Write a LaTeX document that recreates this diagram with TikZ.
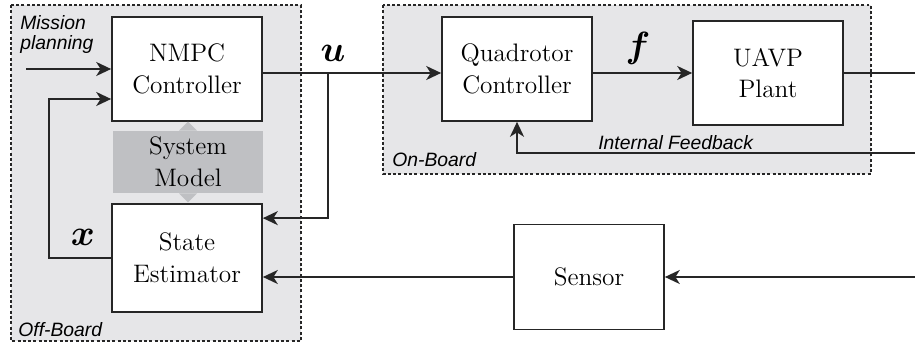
\documentclass[tikz,border=0pt]{standalone}
\usepackage{amsmath, amssymb}
\usepackage{bm}
\usepackage{fontspec}
\newfontfamily\labelfont{Liberation Sans}
\usetikzlibrary{arrows.meta, positioning, calc}
\definecolor{boardgray}{RGB}{230,230,232}
\definecolor{modelgray}{RGB}{191,192,195}

\begin{document}
\begin{tikzpicture}[x=0.02cm,y=-0.02cm,>={Stealth[length=8.5pt,width=8pt,inset=2.5pt]},
    block/.style={draw=black!85, line width=1pt, fill=white, minimum width=3cm,
      minimum height=2.08cm, align=center, font=\Large, inner sep=2pt},
    board/.style={draw=black!85, fill=boardgray, line width=1.1pt,
      dash pattern=on 1.7pt off 1.3pt},
    tag/.style={font=\labelfont\itshape\fontsize{11}{11.5}\selectfont, inner sep=0pt},
    sig/.style={font=\huge, inner sep=0pt},
    wire/.style={line width=1pt, draw=black!85}]
    \useasboundingbox (0,0) rectangle (915,344);

    % boards
    \draw[board] (11,5) rectangle (301,341);
    \draw[board] (383,5) rectangle (871,174);
    \node[tag, anchor=base west] (offboard) at (18,336) {Off-Board};
    \node[tag, anchor=base west] (onboard) at (392,167) {On-Board};

    % blocks
    \node[block] (nmpc) at (187,69) {NMPC\\Controller};
    \node[block] (quad) at (517,69) {Quadrotor\\Controller};
    \node[block] (plant) at (768,73) {UAVP\\Plant};
    \node[block, minimum height=2.16cm] (est) at (187,258) {State\\Estimator};
    \node[block, minimum height=2.1cm] (sensor) at (589,277) {Sensor};

    % system model
    \node[fill=modelgray, minimum width=3cm, minimum height=1.24cm,
          align=center, font=\Large, inner sep=0pt] (model) at (188,162) {System\\Model};
    \fill[modelgray] ($(model.north)+(-9,0)$) -- ($(model.north)+(0,-9)$)
      -- ($(model.north)+(9,0)$) -- cycle;
    \fill[modelgray] ($(model.south)+(-9,0)$) -- ($(model.south)+(0,9)$)
      -- ($(model.south)+(9,0)$) -- cycle;

    % free ends
    \coordinate (row) at (0,73);
    \coordinate (mission) at (26,69);
    \coordinate (ubranch) at (328,73);
    \coordinate (plantout) at (915,73);
    \coordinate (fbin) at (915,153);
    \coordinate (meas) at (915,277);

    % signals
    \draw[wire, ->] (mission) -- (nmpc.west);
    \draw[wire, ->] (nmpc.east |- row) -- (quad.west |- row);
    \draw[wire, ->] (ubranch) |- ($(est.north east)+(0,15)$);
    \draw[wire, ->] (quad.east |- row) -- (plant.west |- row);
    \draw[wire] (plant.east |- row) -- (plantout);
    \draw[wire, ->] (fbin) -| (quad.south);
    \draw[wire, ->] (meas) -- (sensor.east);
    \draw[wire, ->] (sensor.west) -- (est.east |- sensor.west);
    \draw[wire, ->] (est.west) -- ++(-62,0) |- ($(nmpc.west)+(0,30)$);

    % labels
    \node[tag, anchor=north west, align=left] (mplan) at (20,15) {Mission\\planning};
    \node[tag, anchor=base west] (intfb) at (598,150) {Internal Feedback};
    \node[sig] (ulbl) at (333,53) {$\boldsymbol{u}$};
    \node[sig] (flbl) at (638,48) {$\boldsymbol{f}$};
    \node[sig] (xlbl) at (83,237) {$\boldsymbol{x}$};
  \end{tikzpicture}
\end{document}
